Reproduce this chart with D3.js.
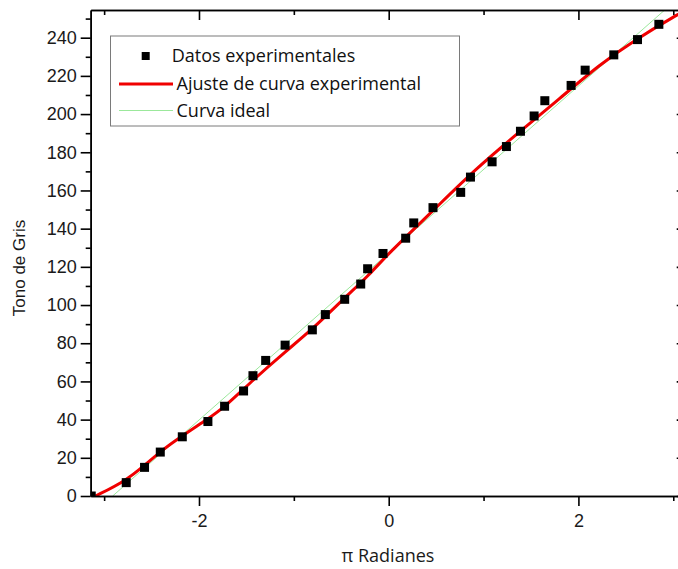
<!DOCTYPE html>
<html lang="es">
<head>
<meta charset="utf-8">
<title>Tono de Gris</title>
<script src="https://cdn.jsdelivr.net/npm/d3@7"></script>
<style>
  body { margin: 0; background: #fff; }
  svg { display: block; }
  .axis path, .axis line { stroke: #000; stroke-width: 1.6px; }
  .axis text { font-family: "Liberation Sans", Arial, sans-serif; font-size: 18px; fill: #1a1a1a; }
  .legend text { font-family: "Open Sans", sans-serif; font-size: 18px; fill: #111; }
</style>
</head>
<body>
<div id="chart"></div>
<script>
// measured points (pi radians vs grey level)
var xData = [-3.136, -2.767, -2.574, -2.408, -2.176, -1.906, -1.730, -1.530, -1.431, -1.297,
             -1.092, -0.805, -0.668, -0.464, -0.295, -0.222, -0.060, 0.179, 0.264, 0.467,
             0.759, 0.862, 1.090, 1.241, 1.389, 1.533, 1.646, 1.923, 2.071, 2.373,
             2.623, 2.848];
var yData = [0, 7, 15, 23, 31, 39, 47, 55, 63, 71,
             79, 87, 95, 103, 111, 119, 127, 135, 143, 151,
             159, 167, 175, 183, 191, 199, 207, 215, 223, 231,
             239, 247];

// fitted curve
var fitX = [-3.09, -2.77, -2.57, -2.41, -2.18, -1.91, -1.73, -1.43, -1.09, -0.80,
            -0.46, -0.22, 0, 0.47, 0.92, 1.38, 1.80, 2.22, 2.60, 3.04, 3.14];
var fitY = [0, 8, 16.2, 23.2, 31.4, 40.2, 46.5, 60.8, 75.6, 87.5,
            104, 115, 127.2, 149.5, 171.5, 190.7, 208, 225.8, 239, 252, 254.5];

// ideal straight line
var idealX = [-2.91, 2.91];
var idealY = [0, 254.5];

var yTicks = [0, 20, 40, 60, 80, 100, 120, 140, 160, 180, 200, 220, 240];
var yMinor = [10, 30, 50, 70, 90, 110, 130, 150, 170, 190, 210, 230, 250];
var xTicks = [-2, 0, 2];
var xMinor = [-3, -1, 1, 3];

var legendItems = ["Datos experimentales", "Ajuste de curva experimental", "Curva ideal"];

var width = 678, height = 569;
var plotLeft = 90.7, plotRight = 686.7, plotTop = 10, plotBottom = 496;

var svg = d3.select("#chart").append("svg")
    .attr("width", width)
    .attr("height", height);

var x = d3.scaleLinear().domain([-Math.PI, Math.PI]).range([plotLeft, plotRight]);
var y = d3.scaleLinear().domain([0, 254.5]).range([plotBottom, plotTop]);

svg.append("clipPath").attr("id", "plot")
  .append("rect")
    .attr("x", plotLeft).attr("y", plotTop)
    .attr("width", plotRight - plotLeft).attr("height", plotBottom - plotTop);

var plot = svg.append("g").attr("clip-path", "url(#plot)");

plot.append("path")
    .datum(d3.zip(idealX, idealY))
    .attr("fill", "none")
    .attr("stroke", "#9be89b")
    .attr("stroke-width", 1)
    .attr("d", d3.line().x(function(d) { return x(d[0]); }).y(function(d) { return y(d[1]); }));

plot.append("path")
    .datum(d3.zip(fitX, fitY))
    .attr("fill", "none")
    .attr("stroke", "#f00000")
    .attr("stroke-width", 3)
    .attr("d", d3.line()
        .curve(d3.curveBasis)
        .x(function(d) { return x(d[0]); })
        .y(function(d) { return y(d[1]); }));

var sq = 9;
plot.append("g")
  .selectAll("rect")
    .data(d3.zip(xData, yData))
  .enter().append("rect")
    .attr("x", function(d) { return x(d[0]) - sq / 2; })
    .attr("y", function(d) { return y(d[1]) - sq / 2; })
    .attr("width", sq)
    .attr("height", sq)
    .attr("fill", "#000");

// axes
function axisG(cls) { return svg.append("g").attr("class", "axis " + cls); }

axisG("y").attr("transform", "translate(" + plotLeft + ",0)")
    .call(d3.axisLeft(y).tickValues(yTicks).tickSize(10).tickSizeOuter(0).tickPadding(4));
axisG("y-minor").attr("transform", "translate(" + plotLeft + ",0)")
    .call(d3.axisLeft(y).tickValues(yMinor).tickSize(5).tickSizeOuter(0).tickFormat(""));

axisG("x").attr("transform", "translate(0," + plotBottom + ")")
    .call(d3.axisBottom(x).tickValues(xTicks).tickSize(10).tickSizeOuter(0).tickPadding(8)
      .tickFormat(function(d) { return d < 0 ? "-" + Math.abs(d) : d; }));
axisG("x-minor").attr("transform", "translate(0," + plotBottom + ")")
    .call(d3.axisBottom(x).tickValues(xMinor).tickSize(5).tickSizeOuter(0).tickFormat(""));

axisG("top").attr("transform", "translate(0," + plotTop + ")")
    .call(d3.axisTop(x).tickValues(xTicks).tickSize(-10).tickSizeOuter(0).tickFormat(""));
axisG("top-minor").attr("transform", "translate(0," + plotTop + ")")
    .call(d3.axisTop(x).tickValues(xMinor).tickSize(-5).tickSizeOuter(0).tickFormat(""));

axisG("right").attr("transform", "translate(" + plotRight + ",0)")
    .call(d3.axisRight(y).tickValues(yTicks).tickSize(-10).tickSizeOuter(0).tickFormat(""));

// axis titles
svg.append("text")
    .attr("transform", "translate(25,268) rotate(-90)")
    .attr("text-anchor", "middle")
    .style("font-family", "'Liberation Sans', Arial, sans-serif")
    .style("font-size", "17px")
    .attr("fill", "#1a1a1a")
    .text("Tono de Gris");

svg.append("text")
    .attr("x", 388)
    .attr("y", 562)
    .attr("text-anchor", "middle")
    .style("font-family", "'Open Sans', sans-serif")
    .style("font-size", "18px")
    .attr("fill", "#1a1a1a")
    .text("\u03c0 Radianes");

// legend
var legend = svg.append("g").attr("class", "legend");
legend.append("rect")
    .attr("x", 110.5).attr("y", 36)
    .attr("width", 349).attr("height", 90)
    .attr("fill", "#fff")
    .attr("stroke", "#7a7a7a")
    .attr("stroke-width", 1);

legend.append("rect")
    .attr("x", 145.7 - 4).attr("y", 56 - 4)
    .attr("width", 8).attr("height", 8)
    .attr("fill", "#000");
legend.append("line")
    .attr("x1", 119).attr("x2", 173).attr("y1", 84).attr("y2", 84)
    .attr("stroke", "#f00000").attr("stroke-width", 3);
legend.append("line")
    .attr("x1", 119).attr("x2", 173).attr("y1", 110.5).attr("y2", 110.5)
    .attr("stroke", "#9be89b").attr("stroke-width", 1);

var lx = [171.7, 176.5, 176.5], ly = [56, 84, 110.5];
legend.selectAll("text.item")
    .data(legendItems)
  .enter().append("text")
    .attr("class", "item")
    .attr("x", function(d, i) { return lx[i]; })
    .attr("y", function(d, i) { return ly[i]; })
    .attr("dy", "0.35em")
    .text(function(d) { return d; });
</script>
</body>
</html>
